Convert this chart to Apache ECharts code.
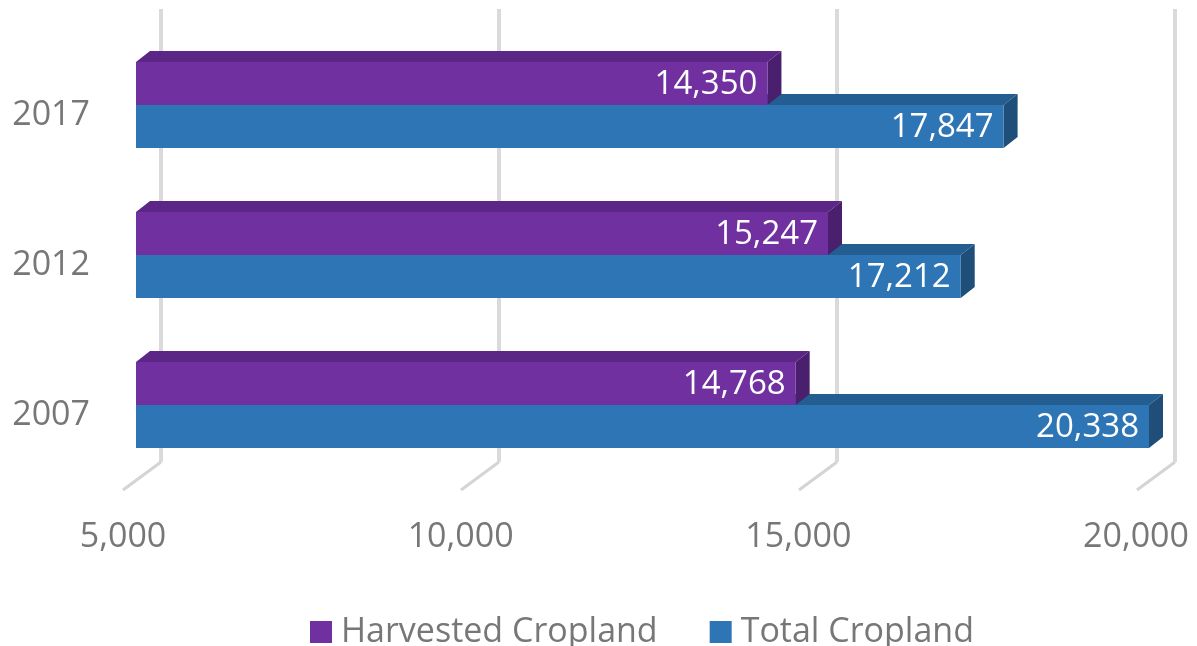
<!DOCTYPE html>
<html>
<head>
<meta charset="utf-8">
<script src="https://cdn.jsdelivr.net/npm/echarts@6/dist/echarts.min.js"></script>
<style>
html, body { margin: 0; padding: 0; background: #fff; }
#chartBar { width: 1197px; height: 646px; }
</style>
</head>
<body>
<div id="chartBar"></div>
<script>
var years = ['2007', '2012', '2017'];
var harvested = [14768, 15247, 14350];
var total = [20338, 17212, 17847];
var xTicks = [5000, 10000, 15000, 20000];
var seriesNames = ['Harvested Cropland', 'Total Cropland'];

var xMin = xTicks[0], xMax = xTicks[xTicks.length - 1];
var DX = 14, DY = -11, BAR_H = 43;   // depth of the fake 3d bars
var textGray = '#777777';
var myChart = echarts.init(document.getElementById('chartBar'));

function fmt(v) {
    return Number(v).toLocaleString('en-US');
}

function barRender(upper, front, top, side) {
    return function (params, api) {
        var cat = api.value(0), val = api.value(1);
        var p0 = api.coord([xMin, cat]);
        var p1 = api.coord([Math.min(val, xMax), cat]);   // clipped at axis max like excel
        var x0 = p0[0], x1 = p1[0], cy = p0[1];
        var y0 = upper ? cy - BAR_H : cy;
        var y1 = upper ? cy : cy + BAR_H;
        return {
            type: 'group',
            children: [
                { type: 'polygon', shape: { points: [[x0, y0], [x1, y0], [x1 + DX, y0 + DY], [x0 + DX, y0 + DY]] }, style: { fill: top } },
                { type: 'polygon', shape: { points: [[x1, y0], [x1 + DX, y0 + DY], [x1 + DX, y1 + DY], [x1, y1]] }, style: { fill: side } },
                { type: 'rect', shape: { x: x0, y: y0, width: x1 - x0, height: y1 - y0 }, style: { fill: front } },
                {
                    type: 'text', x: x1 - 10, y: (y0 + y1) / 2 + 1,
                    style: { text: fmt(val), fill: '#ffffff', fontSize: 33, fontFamily: 'Open Sans', align: 'right', verticalAlign: 'middle' }
                }
            ]
        };
    };
}

function floorRender(params, api) {
    var p = api.coord([api.value(0), 0]);
    return {
        type: 'line',
        shape: { x1: p[0], y1: p[1], x2: p[0] - 38, y2: p[1] + 28 },
        style: { stroke: '#d4d4d4', lineWidth: 3 }
    };
}

var option = {
    animation: false,
    legend: {
        data: seriesNames,
        left: 305,
        top: 610,
        icon: 'rect',
        itemWidth: 22,
        itemHeight: 22,
        itemGap: 52,
        textStyle: { fontSize: 34, fontFamily: 'Open Sans', color: textGray, padding: [0, 0, 0, 4] }
    },
    grid: [
        { left: 136, right: 48, top: 30, bottom: 166 },   // bars, front plane
        { left: 161, right: 22, top: 9, bottom: 184 },    // back wall
        { left: 123, right: 61, top: 9, bottom: 156 }     // floor front, tick labels
    ],
    xAxis: [
        { gridIndex: 0, type: 'value', min: xMin, max: xMax, interval: 5000, show: false },
        {
            gridIndex: 1, type: 'value', min: xMin, max: xMax, interval: 5000,
            axisLine: { show: false }, axisTick: { show: false }, axisLabel: { show: false },
            splitLine: { show: true, lineStyle: { color: '#dadada', width: 4 } }
        },
        {
            gridIndex: 2, type: 'value', min: xMin, max: xMax, interval: 5000,
            axisLine: { show: false }, axisTick: { show: false }, splitLine: { show: false },
            axisLabel: {
                margin: 30, fontSize: 34, fontFamily: 'Open Sans', color: textGray,
                formatter: function (v) { return fmt(v); }
            }
        }
    ],
    yAxis: [
        {
            gridIndex: 0, type: 'category', data: years,
            axisLine: { show: false }, axisTick: { show: false }, splitLine: { show: false },
            axisLabel: { margin: 46, fontSize: 34, fontFamily: 'Open Sans', color: textGray, verticalAlign: 'top', lineHeight: 20 }
        },
        { gridIndex: 1, type: 'value', min: 0, max: 1, show: false },
        { gridIndex: 2, type: 'value', min: 0, max: 1, show: false }
    ],
    series: [
        {
            name: 'floor',
            type: 'custom',
            xAxisIndex: 1, yAxisIndex: 1,
            z: 1,
            silent: true,
            renderItem: floorRender,
            data: xTicks.map(function (v) { return [v]; })
        },
        {
            name: seriesNames[1],
            type: 'custom',
            xAxisIndex: 0, yAxisIndex: 0,
            z: 2,
            itemStyle: { color: '#2e75b6' },
            renderItem: barRender(false, '#2e75b6', '#245d90', '#1f4e79'),
            encode: { x: 1, y: 0 },
            data: total.map(function (v, i) { return [i, v]; })
        },
        {
            name: seriesNames[0],
            type: 'custom',
            xAxisIndex: 0, yAxisIndex: 0,
            z: 3,
            itemStyle: { color: '#7030a0' },
            renderItem: barRender(true, '#7030a0', '#5b2685', '#4a1f6d'),
            encode: { x: 1, y: 0 },
            data: harvested.map(function (v, i) { return [i, v]; })
        }
    ]
};
myChart.setOption(option);

window.onresize = function () {
    myChart.resize();
};
</script>
</body>
</html>
